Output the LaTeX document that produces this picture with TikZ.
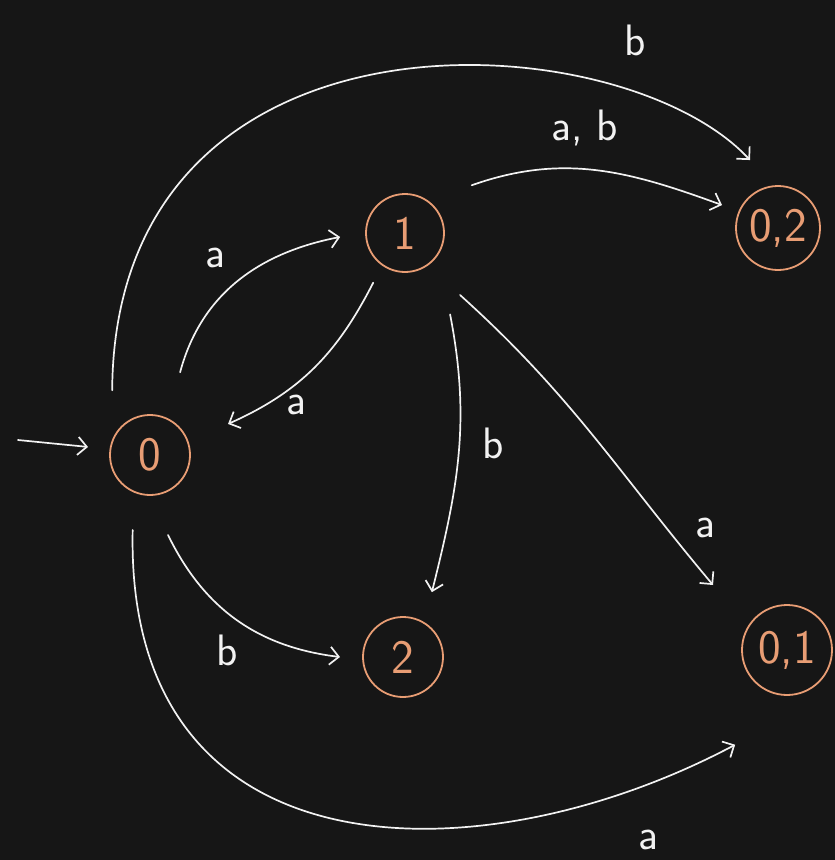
\documentclass[tikz,border=0pt]{standalone}
\usetikzlibrary{arrows.meta,calc}
\definecolor{bg}{HTML}{161616}
\definecolor{peach}{HTML}{E89D74}
\definecolor{ink}{HTML}{F2F2F2}
\begin{document}
\begin{tikzpicture}[x=1pt,y=1pt,
  state/.style={circle,draw=peach,line width=1.8pt,text=peach,
    font=\sffamily\fontsize{48}{48}\selectfont,inner sep=0pt},
  edge/.style={draw=ink,line width=1.7pt,line cap=round,
    -{Straight Barb[length=9pt,width=18pt,line width=1.7pt]}},
  lab/.style={text=ink,font=\sffamily\fontsize{44}{44}\selectfont,inner sep=0pt}]
\fill[bg] (0,0) rectangle (835,-860);
\useasboundingbox (0,0) rectangle (835,-860);

% states
\node[state,minimum size=80pt] (n0) at (150,-455) {0};
\node[state,minimum size=78pt] (n1) at (405,-233) {1};
\node[state,minimum size=80pt] (n2) at (403,-657) {2};
\node[state,minimum size=84pt] (n02) at (778,-228) {0,2};
\node[state,minimum size=90pt] (n01) at (787,-650) {0,1};

% start arrow
\coordinate (s) at (18,-440);
\draw[edge] (s) -- ($(n0)+(172.6:62.5)$);

% transitions
\draw[edge] ($(n0)+(70:88)$) to[out=75,in=191] ($(n1)+(183.5:65)$);
\draw[edge] ($(n1)+(237.4:59)$) to[out=243,in=24] ($(n0)+(21.7:84)$);
\draw[edge] ($(n1)+(-61:93)$) to[out=-79,in=76] ($(n2)+(66:71)$);
\draw[edge] ($(n1)+(-48.4:83)$) to[out=-42,in=130] ($(n01)+(138.7:98.5)$);
\draw[edge] ($(n1)+(35.6:82)$) to[out=19.5,in=160] ($(n02)+(157.7:60.5)$);
\draw[edge] ($(n0)+(120.3:75)$) .. controls (115,10) and (620,-20) .. ($(n02)+(112.4:73.5)$);
\draw[edge] ($(n0)+(257:77)$) .. controls (125,-880) and (480,-880) .. ($(n01)+(241.3:108)$);
\draw[edge] ($(n0)+(-77.3:82)$) to[out=-64,in=173] ($(n2)+(180:63)$);

% labels
\node[lab] (l01) at (215,-258) {a};
\node[lab] (l10) at (296,-405) {a};
\node[lab] (l02) at (227,-650) {b};
\node[lab] (l12) at (493,-443) {b};
\node[lab] (l1x01) at (705,-528) {a};
\node[lab] (l1x02) at (585,-128) {a, b};
\node[lab] (l0x02) at (635,-40) {b};
\node[lab] (l0x01) at (648,-840) {a};
\end{tikzpicture}
\end{document}
